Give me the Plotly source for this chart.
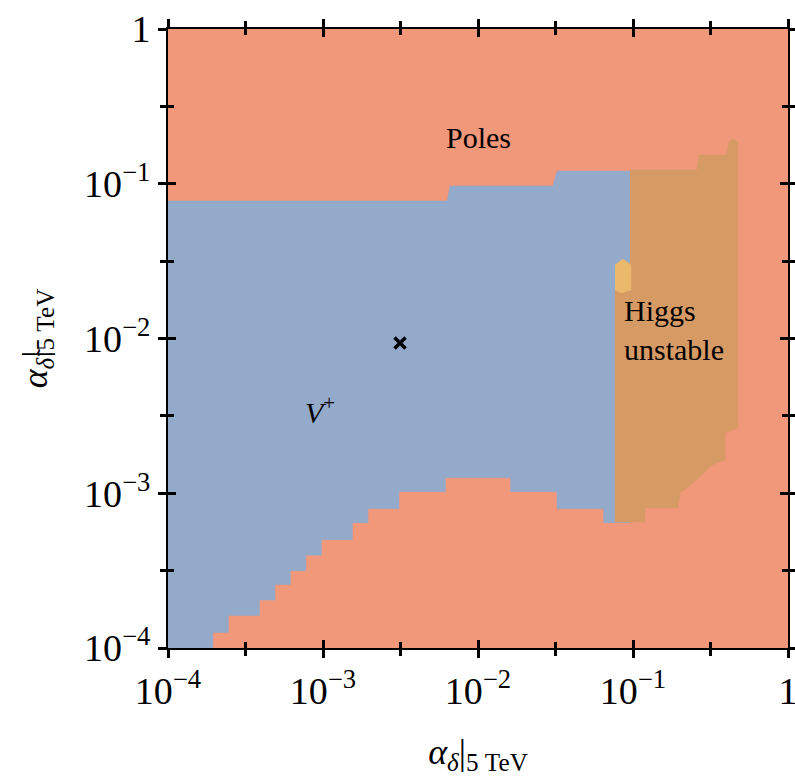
import numpy as np
import plotly.graph_objects as go

# ---------------- data (log10 coordinates of region boundaries) ----------------
# V+ region (blue) boundary, traced counter-clockwise
vplus_x_log = [-4.0, -2.20, -2.18, -1.516, -1.49, -1.019,
               -1.019, -1.19, -1.19, -1.49, -1.49, -1.79, -1.79, -2.21, -2.21,
               -2.51, -2.51, -2.71, -2.71, -2.81, -2.81, -3.01, -3.01, -3.11,
               -3.11, -3.21, -3.21, -3.31, -3.31, -3.41, -3.41, -3.61, -3.61,
               -3.71, -3.71, -4.0]
vplus_y_log = [-1.111, -1.111, -1.014, -1.014, -0.918, -0.918,
               -3.19, -3.19, -3.10, -3.10, -2.99, -2.99, -2.90, -2.90, -2.99,
               -2.99, -3.10, -3.10, -3.19, -3.19, -3.30, -3.30, -3.40, -3.40,
               -3.50, -3.50, -3.59, -3.59, -3.69, -3.69, -3.79, -3.79, -3.90,
               -3.90, -4.0, -4.0]

# Higgs-unstable region (brown) boundary
higgs_x_log = [-1.019, -0.587, -0.574, -0.394, -0.381, -0.355, -0.323,
               -0.323, -0.406, -0.406, -0.49, -0.613, -0.697, -0.71,
               -0.923, -0.923, -1.116, -1.116, -1.019]
higgs_y_log = [-0.911, -0.911, -0.814, -0.814, -0.730, -0.711, -0.730,
               -2.578, -2.611, -2.785, -2.817, -2.934, -2.998, -3.095,
               -3.095, -3.186, -3.186, -1.687, -1.506]

# small yellow patch
patch_x_log = [-1.116, -1.065, -1.013, -1.013, -1.071, -1.116]
patch_y_log = [-1.525, -1.486, -1.525, -1.687, -1.706, -1.687]

# benchmark point
bench_x = [3.14e-3]
bench_y = [9.35e-3]

# labels (positions in data units)
label_text = ["Poles", "<i>V</i><sup>+</sup>", "Higgs<br>unstable"]
label_x = [1.0e-2, 9.6e-4, 0.0845]
label_y = [0.2, 3.45e-3, 1.13e-2]
label_anchor = ["center", "center", "left"]

major_ticks = [1e-4, 1e-3, 1e-2, 1e-1, 1]
major_text = ["10<sup>−4</sup>", "10<sup>−3</sup>", "10<sup>−2</sup>", "10<sup>−1</sup>", "1"]
minor_ticks = [10 ** -3.5, 10 ** -2.5, 10 ** -1.5, 10 ** -0.5]

# ---------------- styles ----------------
C_POLES = "#F1977A"
C_VPLUS = "#94AACB"
C_HIGGS = "#D69B65"
C_PATCH = "#EAB96B"
FONT = "Liberation Serif"

fig = go.Figure()

def pw(v):
    return [10 ** a for a in v]

for xs, ys, col in [(vplus_x_log, vplus_y_log, C_VPLUS),
                    (higgs_x_log, higgs_y_log, C_HIGGS),
                    (patch_x_log, patch_y_log, C_PATCH)]:
    fig.add_trace(go.Scatter(x=pw(xs), y=pw(ys), mode="lines",
                             fill="toself", fillcolor=col, line=dict(width=0.5, color=col),
                             hoverinfo="skip", showlegend=False))

fig.add_trace(go.Scatter(x=bench_x, y=bench_y, mode="markers",
                         marker=dict(symbol="x-thin", size=11, line=dict(width=3.5, color="black")),
                         showlegend=False))
# invisible trace for the overlaying tick axes
fig.add_trace(go.Scatter(x=[1e-2], y=[1e-2], xaxis="x2", yaxis="y2", mode="markers",
                         marker=dict(opacity=0), showlegend=False, hoverinfo="skip"))

for t, x, y, a in zip(label_text, label_x, label_y, label_anchor):
    fig.add_annotation(x=np.log10(x), y=np.log10(y), text=t, showarrow=False,
                       xanchor=a, yanchor="middle", align=a,
                       font=dict(family=FONT, size=30, color="black"))

axis_common = dict(type="log", range=[-4, 0], showgrid=False, zeroline=False, automargin=False,
                   tickvals=major_ticks, showline=True, linecolor="black", linewidth=2)

fig.update_layout(
    width=795, height=779,
    margin=dict(l=168, r=7, t=29, b=131),
    paper_bgcolor="white", plot_bgcolor=C_POLES,
    font=dict(family=FONT, color="black"),
    xaxis=dict(**axis_common, ticktext=major_text, ticks="outside", ticklen=8, tickwidth=3,
               tickcolor="black", mirror="ticks", ticklabeloverflow="allow",
               minor=dict(tickvals=minor_ticks, ticks="outside", ticklen=6, tickwidth=3, tickcolor="black"),
               tickfont=dict(family=FONT, size=38),
               title=dict(text="<i>α</i><sub><i>δ</i></sub>|<sub>5 TeV</sub>",
                          font=dict(family=FONT, size=36), standoff=28)),
    yaxis=dict(**axis_common, ticktext=major_text, ticks="outside", ticklen=8, tickwidth=3,
               tickcolor="black", mirror="ticks", ticklabeloverflow="allow",
               minor=dict(tickvals=minor_ticks, ticks="outside", ticklen=6, tickwidth=3, tickcolor="black"),
               tickfont=dict(family=FONT, size=38),
               title=dict(text="<i>α</i><sub><i>δ̃</i></sub>|<sub>5 TeV</sub>",
                          font=dict(family=FONT, size=36), standoff=26)),
    xaxis2=dict(**axis_common, overlaying="x", anchor="y", side="bottom", showticklabels=False,
                ticks="inside", ticklen=8, tickwidth=3, tickcolor="black", mirror="ticks",
                minor=dict(tickvals=minor_ticks, ticks="inside", ticklen=6, tickwidth=3, tickcolor="black")),
    yaxis2=dict(**axis_common, overlaying="y", anchor="x", side="left", showticklabels=False,
                ticks="inside", ticklen=8, tickwidth=3, tickcolor="black", mirror="ticks",
                minor=dict(tickvals=minor_ticks, ticks="inside", ticklen=6, tickwidth=3, tickcolor="black")),
)

fig.write_html("out.html")
